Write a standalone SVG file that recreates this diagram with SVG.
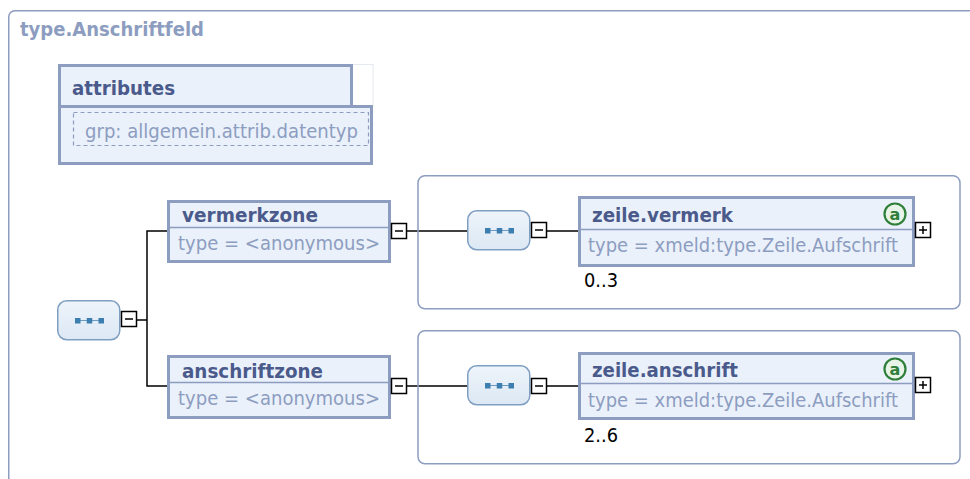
<svg xmlns="http://www.w3.org/2000/svg" width="970" height="479" viewBox="0 0 970 479">
<defs>
<style>
.frame{fill:none;stroke:#8d9dc0;stroke-width:1.5}
.el{fill:#eaf1fb;stroke:#8d9dc0;stroke-width:3}
.div{stroke:#8d9dc0;stroke-width:1.5}
.name{font-family:"DejaVu Sans",Verdana,sans-serif;font-size:20px;font-weight:bold;fill:#4a5a8b}
.typ{font-family:"DejaVu Sans",Verdana,sans-serif;font-size:20px;fill:#8d9dc0}
.title{font-family:"DejaVu Sans",Verdana,sans-serif;font-size:19px;font-weight:bold;fill:#8d9dc0}
.occ{font-family:"DejaVu Sans",Verdana,sans-serif;font-size:20px;fill:#000}
.seq{fill:url(#seqg);stroke:#7f9fc2;stroke-width:1.5}
.btn{fill:#fff;stroke:#000;stroke-width:1.5}
.conn{fill:none;stroke:#000;stroke-width:1.5}
.att{fill:#e8f4e8;stroke:#2f7f3a;stroke-width:2.2}
.atxt{font-family:"DejaVu Sans",sans-serif;font-size:16px;font-weight:bold;fill:#2f7f3a}
</style>
<linearGradient id="seqg" x1="0" y1="0" x2="0" y2="1">
<stop offset="0" stop-color="#eef4fa"/>
<stop offset="1" stop-color="#dce8f4"/>
</linearGradient>
<g id="seqicon">
<line x1="0" y1="2.5" x2="29" y2="2.5" stroke="#6c9cc2" stroke-width="1"/>
<rect x="0" y="0" width="5.5" height="5.5" fill="#3d7eb0"/>
<rect x="11.75" y="0" width="5.5" height="5.5" fill="#3d7eb0"/>
<rect x="23.5" y="0" width="5.5" height="5.5" fill="#3d7eb0"/>
</g>
<g id="minus">
<rect class="btn" x="0" y="0" width="15" height="15"/>
<line x1="3.5" y1="7.5" x2="11.5" y2="7.5" stroke="#000" stroke-width="1.5"/>
</g>
<g id="plus">
<rect class="btn" x="0" y="0" width="15" height="15"/>
<line x1="3.5" y1="7.5" x2="11.5" y2="7.5" stroke="#000" stroke-width="1.5"/>
<line x1="7.5" y1="3.5" x2="7.5" y2="11.5" stroke="#000" stroke-width="1.5"/>
</g>
</defs>
<rect width="970" height="479" fill="#fff"/>

<g id="typeframe">
<rect class="frame" x="8.75" y="10.75" width="980" height="500" rx="6"/>
<text class="title" x="20" y="36" textLength="184" lengthAdjust="spacingAndGlyphs">type.Anschriftfeld</text>
</g>

<g id="attributes">
<rect x="352" y="64.5" width="21" height="42" fill="#fff" stroke="#e4e8ef" stroke-width="1"/>
<rect class="el" x="59.5" y="106.5" width="312" height="57"/>
<rect class="el" x="59.5" y="65.5" width="292" height="41"/>
<text class="name" x="72" y="95" textLength="103" lengthAdjust="spacingAndGlyphs">attributes</text>
<rect x="73.5" y="112.5" width="295" height="33" fill="none" stroke="#8d9dc0" stroke-width="1.2" stroke-dasharray="4,3"/>
<text class="typ" x="85" y="138" textLength="273" lengthAdjust="spacingAndGlyphs">grp: allgemein.attrib.datentyp</text>
</g>

<g id="connectors">
<polyline class="conn" points="137,320 147,320"/>
<polyline class="conn" points="167,231 147,231 147,386 167,386"/>
<line class="conn" x1="406" y1="231" x2="467" y2="231"/>
<line class="conn" x1="546" y1="231" x2="578" y2="231"/>
<line class="conn" x1="406" y1="386" x2="467" y2="386"/>
<line class="conn" x1="546" y1="386" x2="578" y2="386"/>
</g>

<g id="seq-root">
<rect class="seq" x="57.75" y="300.75" width="62" height="39" rx="9"/>
<use href="#seqicon" x="75" y="318"/>
<use href="#minus" x="121.5" y="311.5"/>
</g>

<g id="vermerkzone">
<rect class="el" x="168.5" y="201.5" width="221" height="60"/>
<line class="div" x1="170" y1="227.5" x2="388" y2="227.5"/>
<text class="name" x="182" y="222" textLength="136" lengthAdjust="spacingAndGlyphs">vermerkzone</text>
<text class="typ" x="178" y="250" textLength="202" lengthAdjust="spacingAndGlyphs">type = &lt;anonymous&gt;</text>
<use href="#minus" x="391.5" y="223.5"/>
</g>

<g id="anschriftzone">
<rect class="el" x="168.5" y="356.5" width="221" height="61"/>
<line class="div" x1="170" y1="382.5" x2="388" y2="382.5"/>
<text class="name" x="182" y="378" textLength="141" lengthAdjust="spacingAndGlyphs">anschriftzone</text>
<text class="typ" x="178" y="405" textLength="202" lengthAdjust="spacingAndGlyphs">type = &lt;anonymous&gt;</text>
<use href="#minus" x="391.5" y="378.5"/>
</g>

<g id="group-vermerk">
<rect class="frame" x="418" y="175.75" width="542" height="133" rx="7"/>
</g>

<g id="seq-vermerk">
<rect class="seq" x="467.75" y="210.75" width="62" height="39" rx="9"/>
<use href="#seqicon" x="485" y="228"/>
<use href="#minus" x="531.5" y="222.5"/>
</g>

<g id="zeile.vermerk">
<rect class="el" x="579.5" y="197.5" width="334" height="68"/>
<line class="div" x1="581" y1="229.5" x2="912" y2="229.5"/>
<text class="name" x="592" y="222" textLength="141" lengthAdjust="spacingAndGlyphs">zeile.vermerk</text>
<circle class="att" cx="895" cy="214" r="10.5"/>
<text class="atxt" x="895" y="219.5" text-anchor="middle">a</text>
<text class="typ" x="588" y="252" textLength="310" lengthAdjust="spacingAndGlyphs">type = xmeld:type.Zeile.Aufschrift</text>
<use href="#plus" x="915.5" y="222.5"/>
<text class="occ" x="584" y="287" textLength="34" lengthAdjust="spacingAndGlyphs">0..3</text>
</g>

<g id="group-anschrift">
<rect class="frame" x="418" y="330.75" width="542" height="133" rx="7"/>
</g>

<g id="seq-anschrift">
<rect class="seq" x="467.75" y="365.75" width="62" height="39" rx="9"/>
<use href="#seqicon" x="485" y="383"/>
<use href="#minus" x="531.5" y="378.5"/>
</g>

<g id="zeile.anschrift">
<rect class="el" x="579.5" y="353.5" width="334" height="65"/>
<line class="div" x1="581" y1="383.5" x2="912" y2="383.5"/>
<text class="name" x="592" y="377" textLength="146" lengthAdjust="spacingAndGlyphs">zeile.anschrift</text>
<circle class="att" cx="895" cy="369" r="10.5"/>
<text class="atxt" x="895" y="374.5" text-anchor="middle">a</text>
<text class="typ" x="588" y="407" textLength="310" lengthAdjust="spacingAndGlyphs">type = xmeld:type.Zeile.Aufschrift</text>
<use href="#plus" x="915.5" y="377.5"/>
<text class="occ" x="584" y="442" textLength="34" lengthAdjust="spacingAndGlyphs">2..6</text>
</g>
</svg>
